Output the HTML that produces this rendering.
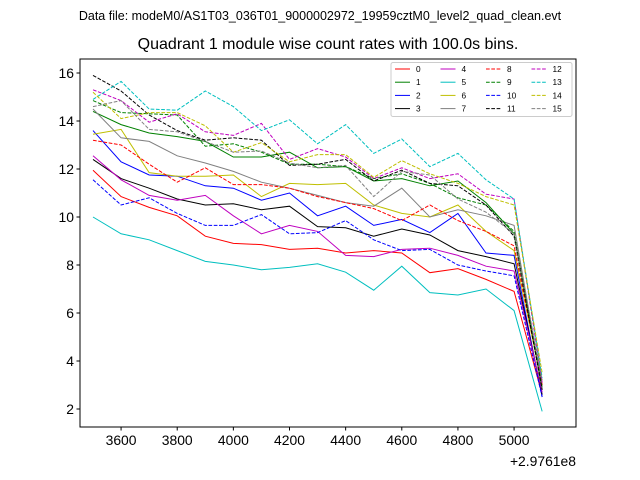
<!DOCTYPE html>
<html><head><meta charset="utf-8"><style>
body{margin:0;background:#fff;}
svg{display:block;font-family:"Liberation Sans","DejaVu Sans",sans-serif;}
</style></head><body>
<svg id="chart" width="640" height="480" viewBox="0 0 640 480">
<rect width="640" height="480" fill="#fff"/>
<text x="320" y="20" font-size="12.5" text-anchor="middle">Data file: modeM0/AS1T03_036T01_9000002972_19959cztM0_level2_quad_clean.evt</text>
<text x="328" y="49" font-size="16" text-anchor="middle">Quadrant 1 module wise count rates with 100.0s bins.</text>
<g id="plot"></g>
</svg>
<script>
const xTicks=[3600,3800,4000,4200,4400,4600,4800,5000];
const yTicks=[2,4,6,8,10,12,14,16];
const times=[3500,3600,3700,3800,3900,4000,4100,4200,4300,4400,4500,4600,4700,4800,4900,5000,5100];
const s0=[11.95,10.85,10.4,10.05,9.2,8.9,8.85,8.65,8.7,8.5,8.6,8.5,7.68,7.85,7.4,6.9,2.6];
const s1=[14.4,13.85,13.5,13.35,13.15,12.5,12.5,12.7,12.05,12.1,11.5,11.6,11.3,11.5,10.6,9.3,2.8];
const s2=[13.6,12.3,11.75,11.7,11.3,11.2,10.7,11.0,10.05,10.45,9.65,9.9,9.35,10.15,8.5,8.4,2.5];
const s3=[12.4,11.6,11.2,10.75,10.5,10.55,10.3,10.45,9.6,9.55,9.2,9.5,9.25,8.6,8.35,8.05,2.6];
const s4=[12.55,11.55,10.9,10.7,10.9,10.05,9.3,9.65,9.4,8.4,8.35,8.65,8.7,8.4,7.95,7.75,2.7];
const s5=[10.0,9.3,9.05,8.6,8.15,8.0,7.8,7.9,8.05,7.7,6.95,7.95,6.85,6.75,7.0,6.1,1.9];
const s6=[13.45,13.65,11.85,11.7,11.7,11.75,10.85,11.4,11.35,11.4,10.5,10.15,10.0,10.5,9.4,8.6,3.0];
const s7=[14.5,13.3,13.15,12.55,12.25,11.9,11.45,11.2,10.9,10.6,10.45,11.2,10.0,10.3,10.05,9.65,2.9];
const s8=[13.2,13.0,12.2,11.45,12.05,11.35,11.35,11.2,10.85,10.6,10.35,9.85,10.5,9.85,9.4,8.8,3.0];
const s9=[14.85,14.35,14.3,14.25,12.95,13.05,12.7,12.2,12.2,12.1,11.6,11.8,11.4,10.8,10.5,9.4,2.9];
const s10=[11.55,10.5,10.8,10.15,9.65,9.65,10.1,9.3,9.35,9.85,9.05,8.6,8.65,8.0,7.75,7.55,2.5];
const s11=[15.9,15.25,14.25,13.6,13.2,13.3,13.2,12.15,12.2,12.4,11.5,11.95,11.4,11.3,10.5,9.2,2.8];
const s12=[15.3,14.85,13.95,14.3,13.55,13.4,13.9,12.4,12.85,12.5,11.6,12.05,11.6,11.8,10.95,10.75,3.1];
const s13=[14.9,15.65,14.5,14.45,15.25,14.6,13.6,14.05,13.05,13.85,12.65,13.25,12.1,12.65,11.55,10.75,3.3];
const s14=[15.2,14.1,14.35,14.35,13.8,12.7,13.1,12.3,12.6,12.6,11.65,12.35,11.8,11.4,10.85,10.5,3.5];
const s15=[14.6,14.85,13.65,13.55,13.15,12.7,12.75,12.25,12.05,12.15,10.85,11.9,11.75,10.75,10.2,9.3,3.2];
const seriesNames=["0","1","2","3","4","5","6","7","8","9","10","11","12","13","14","15"];
const series=[s0,s1,s2,s3,s4,s5,s6,s7,s8,s9,s10,s11,s12,s13,s14,s15];
const colors=["#ff0000","#008000","#0000ff","#000000","#bf00bf","#00bfbf","#bfbf00","#808080"];
const NS="http://www.w3.org/2000/svg";
const L=80,R=576,T=59,B=427;
const sx=v=>93+(v-3500)*(514-121)/1400;
const sy=v=>409-(v-2)*24;
const g=document.getElementById('plot');
function mk(tag,attrs,parent){const e=document.createElementNS(NS,tag);for(const k in attrs)e.setAttribute(k,attrs[k]);(parent||g).appendChild(e);return e;}
// series
series.forEach((s,i)=>{
  const p=mk('polyline',{points:s.map((v,j)=>sx(times[j])+','+sy(v)).join(' '),fill:'none',stroke:colors[i%8],'stroke-width':1,'stroke-dasharray':i>=8?'3.7,1.6':'none'});
  
  
});
// frame
const fr=mk('rect',{x:L,y:T,width:R-L,height:B-T,fill:'none',stroke:'#000','stroke-width':1});


xTicks.forEach(t=>{
  const x=sx(t);
  mk('line',{x1:x,x2:x,y1:B,y2:B+3.5,stroke:'#000'});
  const tx=mk('text',{x:x,y:B+18,'font-size':13.9,'text-anchor':'middle'});tx.textContent=t;
  
  
});
yTicks.forEach(t=>{
  const y=sy(t);
  mk('line',{x1:L-3.5,x2:L,y1:y,y2:y,stroke:'#000'});
  const tx=mk('text',{x:L-6,y:y+5,'font-size':13.9,'text-anchor':'end'});tx.textContent=t;
  
  
});
const off=mk('text',{x:576,y:466,'font-size':13.9,'text-anchor':'end'});off.textContent='+2.9761e8';


// legend
const lg=mk('g',{});


mk('rect',{x:391,y:62.5,width:181,height:54,rx:2,fill:'#fff','fill-opacity':0.8,stroke:'#ccc','stroke-width':1},lg);
seriesNames.forEach((n,i)=>{
  const col=Math.floor(i/4),row=i%4;
  const x=395+col*45.5,y=69+row*13.2;
  const e=mk('g',{},lg);
  
  
  mk('line',{x1:x,x2:x+15,y1:y,y2:y,stroke:colors[i%8],'stroke-width':1,'stroke-dasharray':i>=8?'3.7,1.6':'none'},e);
  const t=mk('text',{x:x+21,y:y+3,'font-size':8.3},e);t.textContent=n;
});
</script>
</body></html>
